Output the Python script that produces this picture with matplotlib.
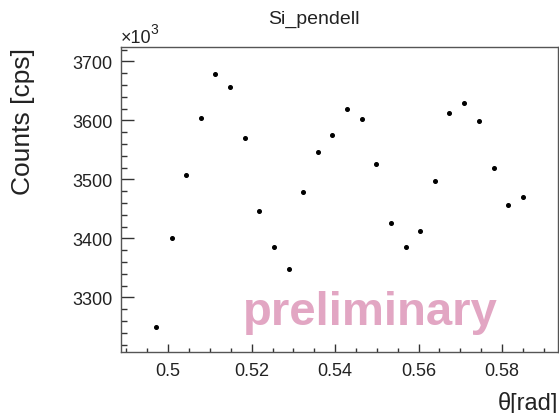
import matplotlib
matplotlib.use("Agg")
import matplotlib.pyplot as plt
from matplotlib.ticker import MultipleLocator

plt.rcParams['font.family'] = ['Liberation Sans', 'DejaVu Sans']

# scan angle [rad] and counts (in units of 10^3 cps)
theta = [0.4972, 0.5008, 0.5043, 0.5078, 0.5113, 0.5148, 0.5183, 0.5218, 0.5253,
         0.5289, 0.5323, 0.5359, 0.5393, 0.5429, 0.5464, 0.5499, 0.5535, 0.5569,
         0.5603, 0.5639, 0.5674, 0.5709, 0.5744, 0.5780, 0.5815, 0.5849]
counts = [3250, 3400, 3508, 3604, 3679, 3657, 3570, 3447, 3386,
          3349, 3479, 3546, 3576, 3620, 3602, 3526, 3426, 3386,
          3413, 3498, 3613, 3630, 3599, 3519, 3456, 3471]

title = "Si_pendell"
xlabel = "\u03b8[rad]"
ylabel = "Counts [cps]"
watermark = "preliminary"

W, H = 559, 414
fig = plt.figure(figsize=(W / 100, H / 100), dpi=100)
ax = fig.add_axes([121 / W, 1 - 353 / H, (558 - 121) / W, (353 - 48) / H])

ax.plot(theta, counts, linestyle='none', marker='o', markersize=2.6, color='black')

ax.set_xlim(0.4887, 0.5934)
ax.set_ylim(3207.5, 3724.5)
ax.xaxis.set_major_locator(MultipleLocator(0.02))
ax.xaxis.set_minor_locator(MultipleLocator(0.005))
ax.yaxis.set_major_locator(MultipleLocator(100))
ax.yaxis.set_minor_locator(MultipleLocator(20))
ax.xaxis.set_major_formatter(matplotlib.ticker.FuncFormatter(lambda v, p: ('%g' % round(v, 3))))

ax.tick_params(which='both', direction='in', top=False, right=False, colors='#333333',
               labelcolor='#222222', labelsize=13, width=1.0)
ax.tick_params(axis='x', which='major', length=6, pad=7)
ax.tick_params(axis='x', which='minor', length=3)
ax.tick_params(axis='y', which='major', length=9.5, pad=6)
ax.tick_params(axis='y', which='minor', length=4.5)
for s in ax.spines.values():
    s.set_color('#555555')
    s.set_linewidth(1.0)

# watermark, placed in axes fraction
ax.text((370 - 121) / (558 - 121), (353 - 325) / (353 - 48), watermark, transform=ax.transAxes,
        fontsize=34, fontweight='bold', color='#e2a6c3', ha='center', va='baseline')

fig.text(314 / W, 1 - 19 / H, title, fontsize=14, ha='center', va='center', color='#222222')
fig.text(23 / W, 1 - 48 / H, ylabel, fontsize=19, rotation=90, ha='center', va='top', color='#222222')
fig.text(558 / W, 1 - 404 / H, xlabel, fontsize=17, ha='right', va='center', color='#222222')
fig.text(121 / W, 1 - 47 / H, "\u00d710", fontsize=13, ha='left', va='bottom', color='#222222')
fig.text(150.5 / W, 1 - 37 / H, "3", fontsize=10, ha='left', va='bottom', color='#222222')

fig.savefig("out.png", dpi=100, facecolor='white')
